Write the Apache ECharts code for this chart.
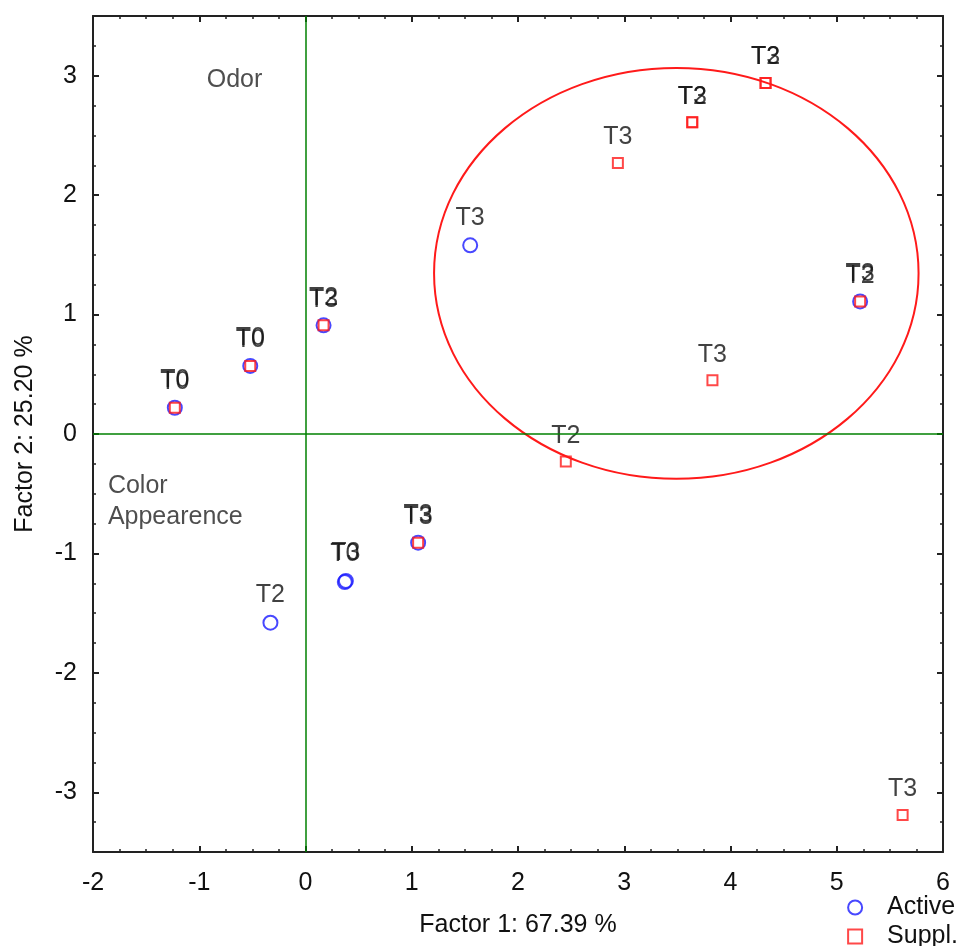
<!DOCTYPE html>
<html>
<head>
<meta charset="utf-8">
<script src="https://cdn.jsdelivr.net/npm/echarts@6/dist/echarts.min.js"></script>
<style>
  html, body { margin: 0; padding: 0; background: #fff; }
  #chart { width: 960px; height: 946px; }
</style>
</head>
<body>
<div id="chart"></div>
<script>
// Active observations (factor coordinates)
const activeX = [-1.23, -0.52, 0.17, 1.55, 5.22, 1.06, 0.37, 0.38, -0.33];
const activeY = [0.22, 0.57, 0.91, 1.58, 1.11, -0.91, -1.24, -1.23, -1.58];
const activeLabels = ['T0', 'T0', 'T2', 'T3', 'T3', 'T3', 'T0', 'T3', 'T2'];

// Supplementary observations
const supplX = [-1.23, -0.52, 0.17, 2.94, 3.64, 3.64, 4.33, 4.33, 5.22, 3.83, 2.45, 1.06, 5.62];
const supplY = [0.22, 0.57, 0.91, 2.27, 2.61, 2.61, 2.94, 2.94, 1.11, 0.45, -0.23, -0.91, -3.19];
const supplLabels = ['T0', 'T0', 'T3', 'T3', 'T3', 'T2', 'T3', 'T2', 'T2', 'T3', 'T2', 'T3', 'T3'];

// Grouping ellipse: centre x, centre y, semi-axis x, semi-axis y
const ellipseParams = [3.49, 1.345, 2.28, 1.72];

// Variable annotations: x, y, text
const noteX = [-0.93, -1.86, -1.86];
const noteY = [2.96, -0.44, -0.70];
const noteText = ['Odor', 'Color', 'Appearence'];

const xTitle = 'Factor 1: 67.39 %';
const yTitle = 'Factor 2: 25.20 %';

const FONT = 'Liberation Sans, Arial, sans-serif';
const FS = 25;
const TXT = '#111';

const pts = (xs, ys, ls) => xs.map((x, i) => ({ value: [x, ys[i]], name: ls[i] }));

const tickCommon = {
  axisLine: { show: true, onZero: false, lineStyle: { color: '#222', width: 2 } },
  axisTick: { show: true, inside: true, length: 6, lineStyle: { color: '#222', width: 2 } },
  minorTick: { show: true, splitNumber: 4, length: 3, lineStyle: { color: '#222', width: 1.5 } },
  splitLine: { show: false },
  minorSplitLine: { show: false }
};

const chart = echarts.init(document.getElementById('chart'), null, { renderer: 'canvas' });

chart.setOption({
  animation: false,
  backgroundColor: '#fff',
  grid: { left: 93, right: 17, top: 16, bottom: 94, containLabel: false },
  legend: {
    data: ['Active', 'Suppl.'],
    orient: 'vertical',
    right: -3,
    bottom: -8,
    itemGap: 4,
    itemWidth: 14,
    itemHeight: 14,
    textStyle: { fontFamily: FONT, fontSize: FS, color: TXT, padding: [0, 0, 0, 20] }
  },
  xAxis: [
    Object.assign({
      type: 'value', min: -2, max: 6, interval: 1, position: 'bottom',
      name: xTitle, nameLocation: 'middle', nameGap: 61,
      nameTextStyle: { fontFamily: FONT, fontSize: FS, color: TXT },
      axisLabel: { fontFamily: FONT, fontSize: FS, color: TXT, margin: 19 }
    }, tickCommon),
    Object.assign({
      type: 'value', min: -2, max: 6, interval: 1, position: 'top',
      axisLabel: { show: false }
    }, tickCommon)
  ],
  yAxis: [
    Object.assign({
      type: 'value', min: -3.5, max: 3.5, position: 'left',
      name: yTitle, nameLocation: 'middle', nameGap: 55,
      nameTextStyle: { fontFamily: FONT, fontSize: FS, color: TXT },
      axisLabel: {
        fontFamily: FONT, fontSize: FS, color: TXT, margin: 16,
        showMinLabel: false, showMaxLabel: false,
        formatter: v => (Number.isInteger(v) ? String(v) : '')
      }
    }, tickCommon),
    Object.assign({
      type: 'value', min: -3.5, max: 3.5, position: 'right',
      axisLabel: { show: false }
    }, tickCommon)
  ],
  series: [
    {
      name: 'axes',
      type: 'line',
      data: [],
      silent: true,
      markLine: {
        silent: true,
        symbol: 'none',
        label: { show: false },
        lineStyle: { color: '#008000', width: 1.5, type: 'solid' },
        data: [{ xAxis: 0 }, { yAxis: 0 }]
      }
    },
    {
      name: 'ellipse',
      type: 'custom',
      silent: true,
      data: [ellipseParams],
      encode: { x: 0, y: 1 },
      renderItem: (params, api) => {
        const c = api.coord([api.value(0), api.value(1)]);
        const s = api.size([api.value(2), api.value(3)]);
        return {
          type: 'ellipse',
          shape: { cx: c[0], cy: c[1], rx: s[0], ry: s[1] },
          style: { fill: 'none', stroke: '#ff1a1a', lineWidth: 2 }
        };
      }
    },
    {
      name: 'notes',
      type: 'scatter',
      silent: true,
      symbolSize: 0,
      data: noteX.map((x, i) => ({ value: [x, noteY[i]], name: noteText[i] })),
      label: {
        show: true, position: 'right', distance: 0,
        formatter: p => p.name,
        fontFamily: FONT, fontSize: FS, color: '#222'
      },
      labelLayout: { hideOverlap: false }
    },
    {
      name: 'Active',
      type: 'scatter',
      symbol: 'circle',
      symbolSize: 14,
      data: pts(activeX, activeY, activeLabels),
      itemStyle: { color: 'rgba(255,255,255,0)', borderColor: '#1a1aff', borderWidth: 2 },
      label: {
        show: true, position: 'top', distance: 7,
        formatter: p => p.name,
        fontFamily: FONT, fontSize: FS, color: TXT
      },
      labelLayout: { hideOverlap: false },
      z: 3
    },
    {
      name: 'Suppl.',
      type: 'scatter',
      symbol: 'rect',
      symbolSize: 10,
      data: pts(supplX, supplY, supplLabels),
      itemStyle: { color: 'rgba(255,255,255,0)', borderColor: '#ff1a1a', borderWidth: 2 },
      label: {
        show: true, position: 'top', distance: 7,
        formatter: p => p.name,
        fontFamily: FONT, fontSize: FS, color: TXT
      },
      labelLayout: { hideOverlap: false },
      z: 4
    }
  ]
});
</script>
</body>
</html>
